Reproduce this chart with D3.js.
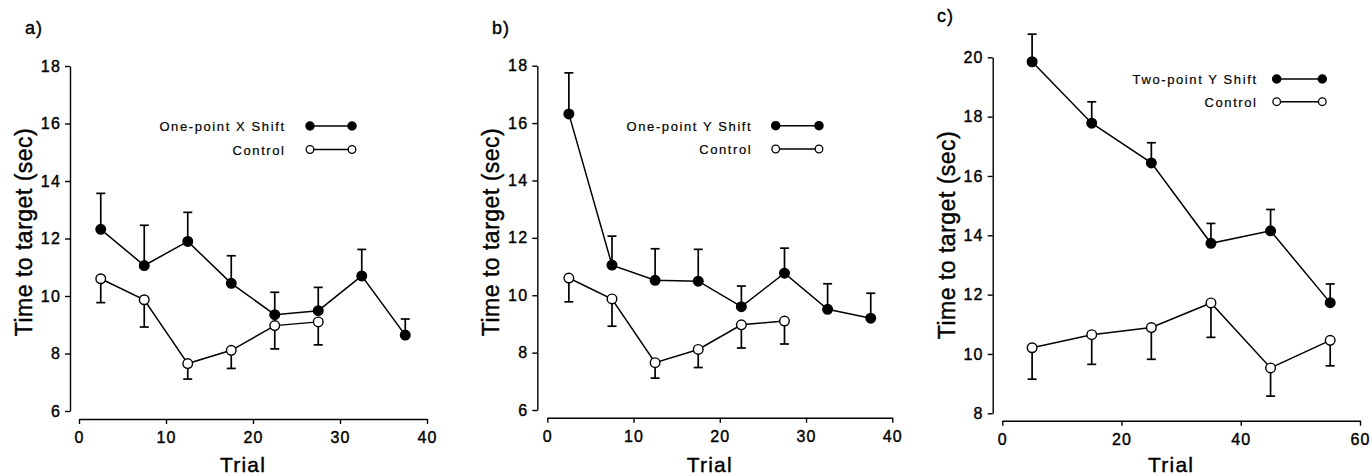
<!DOCTYPE html>
<meta charset="utf-8">
<style>
    body { margin: 0; background: #ffffff; }
    svg { display: block; }
    text { font-family: "Liberation Sans", Arial, Helvetica, sans-serif; fill: #000; stroke: #000; stroke-width: 0.4px; }
    text.legend { stroke-width: 0.2px; }
</style>

<script src="https://cdn.jsdelivr.net/npm/d3@7"></script>

<svg id="chart" width="1372" height="476"></svg>

<script>

// Data

var trialsAB = [2.5, 7.5, 12.5, 17.5, 22.5, 27.5, 32.5, 37.5];
var trialsC  = [5, 15, 25, 35, 45, 55];

var xShiftMean = [12.32, 11.06, 11.90, 10.44, 9.35, 9.49, 10.70, 8.64];
var xShiftErr  = [1.25, 1.40, 1.01, 0.96, 0.78, 0.81, 0.92, 0.56];

var yShiftMean = [16.32, 11.05, 10.52, 10.49, 9.60, 10.77, 9.51, 9.20];
var yShiftErr  = [1.43, 1.01, 1.10, 1.11, 0.72, 0.87, 0.89, 0.87];

var controlABMean = [10.60, 9.87, 7.65, 8.11, 8.97, 9.10];
var controlABErr  = [0.83, 0.95, 0.54, 0.63, 0.81, 0.80];

var twoPointMean = [19.85, 17.78, 16.44, 13.73, 14.15, 11.73];
var twoPointErr  = [0.93, 0.72, 0.68, 0.67, 0.72, 0.63];

var controlCMean = [10.21, 10.65, 10.89, 11.72, 9.53, 10.46];
var controlCErr  = [1.06, 1.00, 1.07, 1.16, 0.95, 0.86];

var ticksAB_x = [0, 10, 20, 30, 40];
var ticksAB_y = [6, 8, 10, 12, 14, 16, 18];
var ticksC_x  = [0, 20, 40, 60];
var ticksC_y  = [8, 10, 12, 14, 16, 18, 20];


// Panel layout

var panels = [
    {
        label: 'a)', labelX: 25, labelY: 34,
        xDomain: [0, 40], xRange: [79, 427], xAxisY: 419, xTicks: ticksAB_x,
        yDomain: [6, 18], yRange: [411, 66], yAxisX: 70, yTicks: ticksAB_y,
        yLabelY: 232,
        shifted: { name: 'One-point X Shift', x: trialsAB, mean: xShiftMean, err: xShiftErr },
        control: { name: 'Control', x: trialsAB.slice(0, 6), mean: controlABMean, err: controlABErr },
        legend: { textEnd: 284, m0: 310, m1: 352, rows: [126, 149.5] }
    },
    {
        label: 'b)', labelX: 492, labelY: 34,
        xDomain: [0, 40], xRange: [547.3, 892.3], xAxisY: 417.7, xTicks: ticksAB_x,
        yDomain: [6, 18], yRange: [410, 65.7], yAxisX: 537.3, yTicks: ticksAB_y,
        yLabelY: 232,
        shifted: { name: 'One-point Y Shift', x: trialsAB, mean: yShiftMean, err: yShiftErr },
        control: { name: 'Control', x: trialsAB.slice(0, 6), mean: controlABMean, err: controlABErr },
        legend: { textEnd: 750.7, m0: 775.7, m1: 819, rows: [125.7, 149] }
    },
    {
        label: 'c)', labelX: 937, labelY: 22,
        xDomain: [0, 60], xRange: [1002.3, 1360], xAxisY: 420.7, xTicks: ticksC_x,
        yDomain: [8, 20], yRange: [413.3, 57.3], yAxisX: 992.7, yTicks: ticksC_y,
        yLabelY: 235,
        shifted: { name: 'Two-point Y Shift', x: trialsC, mean: twoPointMean, err: twoPointErr },
        control: { name: 'Control', x: trialsC, mean: controlCMean, err: controlCErr },
        legend: { textEnd: 1256, m0: 1276.7, m1: 1322.3, rows: [79, 101.7] }
    }
];

var svg = d3.select('svg#chart');

var markerRadius = 4.8;
var legendRadius = 3.8;
var capHalf = 4.5;


function drawSeries (g, x, y, s, filled, up) {
    var pts = s.x.map(function (d, i) { return { x: d, m: s.mean[i], e: s.err[i] }; });

    var line = d3.line()
        .x(function (d) { return x(d.x); })
        .y(function (d) { return y(d.m); });

    g.append('path')
        .attr('d', line(pts))
        .attr('fill', 'none')
        .attr('stroke', '#000')
        .attr('stroke-width', 1.5);

    // error bars (one-sided)
    var bars = g.append('g')
        .attr('stroke', '#000')
        .attr('stroke-width', 1.7);

    pts.forEach(function (d) {
        var end = up ? d.m + d.e : d.m - d.e;
        bars.append('line')
            .attr('x1', x(d.x)).attr('x2', x(d.x))
            .attr('y1', y(d.m)).attr('y2', y(end));
        bars.append('line')
            .attr('x1', x(d.x) - capHalf).attr('x2', x(d.x) + capHalf)
            .attr('y1', y(end)).attr('y2', y(end));
    });

    g.append('g').selectAll('circle')
        .data(pts)
        .enter().append('circle')
        .attr('cx', function (d) { return x(d.x); })
        .attr('cy', function (d) { return y(d.m); })
        .attr('r', markerRadius)
        .attr('fill', filled ? '#000' : '#fff')
        .attr('stroke', '#000')
        .attr('stroke-width', 1.4);
}


function drawLegendRow (g, lg, row, name, filled) {
    var yy = lg.rows[row];
    g.append('text')
        .attr('class', 'legend')
        .attr('x', lg.textEnd + 1.6)
        .attr('y', yy + 5)
        .attr('text-anchor', 'end')
        .attr('font-size', 13)
        .attr('letter-spacing', 1.6)
        .text(name);
    g.append('line')
        .attr('x1', lg.m0).attr('x2', lg.m1)
        .attr('y1', yy).attr('y2', yy)
        .attr('stroke', '#000')
        .attr('stroke-width', 1.5);
    [lg.m0, lg.m1].forEach(function (mx) {
        g.append('circle')
            .attr('cx', mx).attr('cy', yy)
            .attr('r', filled ? legendRadius + 0.3 : legendRadius)
            .attr('fill', filled ? '#000' : '#fff')
            .attr('stroke', '#000')
            .attr('stroke-width', 1.3);
    });
}


panels.forEach(function (p) {
    var g = svg.append('g');

    var x = d3.scaleLinear().domain(p.xDomain).range(p.xRange);
    var y = d3.scaleLinear().domain(p.yDomain).range(p.yRange);

    // axes (offset, SigmaPlot style)
    var xAxis = g.append('g')
        .attr('transform', 'translate(0,' + p.xAxisY + ')')
        .call(d3.axisBottom(x).tickValues(p.xTicks).tickSize(5).tickSizeOuter(0).tickPadding(8));

    var yAxis = g.append('g')
        .attr('transform', 'translate(' + p.yAxisX + ',0)')
        .call(d3.axisLeft(y).tickValues(p.yTicks).tickSize(5).tickSizeOuter(0).tickPadding(4));

    [xAxis, yAxis].forEach(function (a) {
        a.select('.domain').attr('stroke', '#000').attr('stroke-width', 1.4);
        a.selectAll('.tick line').attr('stroke', '#000').attr('stroke-width', 1.4);
        a.selectAll('.tick text')
            .attr('font-size', 16)
            .attr('letter-spacing', 1.2)
            .attr('font-family', '"Liberation Sans", Arial, sans-serif')
            .attr('fill', '#000');
    });

    // axis titles
    g.append('text')
        .attr('x', (p.xRange[0] + p.xRange[1]) / 2 - 10)
        .attr('y', 471.5)
        .attr('text-anchor', 'middle')
        .attr('font-size', 21)
        .attr('letter-spacing', 1.2)
        .text('Trial');

    g.append('text')
        .attr('transform', 'translate(' + (p.yAxisX - 38) + ',' + p.yLabelY + ') rotate(-90)')
        .attr('text-anchor', 'middle')
        .attr('font-size', 23)
        .attr('letter-spacing', 0.5)
        .text('Time to target (sec)');

    // panel label
    g.append('text')
        .attr('x', p.labelX)
        .attr('y', p.labelY)
        .attr('font-size', 18)
        .attr('letter-spacing', 1)
        .text(p.label);

    drawSeries(g, x, y, p.control, false, false);
    drawSeries(g, x, y, p.shifted, true, true);

    drawLegendRow(g, p.legend, 0, p.shifted.name, true);
    drawLegendRow(g, p.legend, 1, p.control.name, false);
});

</script>
